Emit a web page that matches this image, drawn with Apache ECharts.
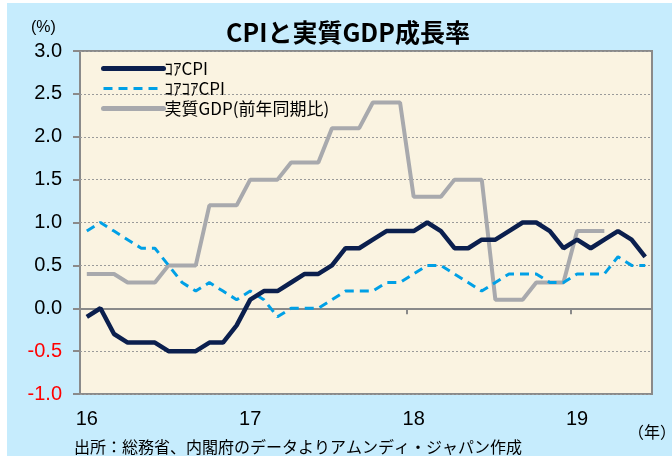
<!DOCTYPE html>
<html>
<head>
<meta charset="utf-8">
<script src="https://cdn.jsdelivr.net/npm/echarts@6/dist/echarts.min.js"></script>
<style>
  html, body { margin: 0; padding: 0; background: #fff; }
  #main { width: 672px; height: 456px; }
</style>
</head>
<body>
<div id="main"></div>
<script>
// 月次 2016/01 - 2019/06
const months = [
  '16/01', '16/02', '16/03', '16/04', '16/05', '16/06', '16/07', '16/08', '16/09', '16/10', '16/11', '16/12',
  '17/01', '17/02', '17/03', '17/04', '17/05', '17/06', '17/07', '17/08', '17/09', '17/10', '17/11', '17/12',
  '18/01', '18/02', '18/03', '18/04', '18/05', '18/06', '18/07', '18/08', '18/09', '18/10', '18/11', '18/12',
  '19/01', '19/02', '19/03', '19/04', '19/05', '19/06'
]
const coreCpi = [
  -0.1, 0.0, -0.3, -0.4, -0.4, -0.4, -0.5, -0.5, -0.5, -0.4, -0.4, -0.2,
  0.1, 0.2, 0.2, 0.3, 0.4, 0.4, 0.5, 0.7, 0.7, 0.8, 0.9, 0.9,
  0.9, 1.0, 0.9, 0.7, 0.7, 0.8, 0.8, 0.9, 1.0, 1.0, 0.9, 0.7,
  0.8, 0.7, 0.8, 0.9, 0.8, 0.6
]
const coreCoreCpi = [
  0.9, 1.0, 0.9, 0.8, 0.7, 0.7, 0.5, 0.3, 0.2, 0.3, 0.2, 0.1,
  0.2, 0.1, -0.1, 0.0, 0.0, 0.0, 0.1, 0.2, 0.2, 0.2, 0.3, 0.3,
  0.4, 0.5, 0.5, 0.4, 0.3, 0.2, 0.3, 0.4, 0.4, 0.4, 0.3, 0.3,
  0.4, 0.4, 0.4, 0.6, 0.5, 0.5
]
// 四半期の値を3か月ずつ
const realGdp = [
  0.4, 0.4, 0.4, 0.3, 0.3, 0.3, 0.5, 0.5, 0.5, 1.2, 1.2, 1.2,
  1.5, 1.5, 1.5, 1.7, 1.7, 1.7, 2.1, 2.1, 2.1, 2.4, 2.4, 2.4,
  1.3, 1.3, 1.3, 1.5, 1.5, 1.5, 0.1, 0.1, 0.1, 0.3, 0.3, 0.3,
  0.9, 0.9, 0.9, null, null, null
]
const seriesNames = ['ｺｱCPI', 'ｺｱｺｱCPI', '実質GDP(前年同期比)']
const colors = ['#0B1F4E', '#00A0E6', '#A8A9AD']

const myChart = echarts.init(document.getElementById('main'))
const jp = '"Noto Sans CJK JP", sans-serif'
const num = '"Liberation Sans", Arial, sans-serif'

const option = {
  backgroundColor: '#C6ECFD',
  animation: false,
  title: {
    text: 'CPIと実質GDP成長率',
    left: 343,
    top: 15,
    textAlign: 'center',
    textStyle: { fontFamily: jp, fontSize: 25, fontWeight: 'bold', color: '#000' }
  },
  graphic: [
    { type: 'rect', shape: { x: 0, y: 0, width: 672, height: 3 }, style: { fill: '#fff' } },
    { type: 'rect', shape: { x: 0, y: 0, width: 7, height: 456 }, style: { fill: '#fff' } },
    { type: 'text', left: 31, top: 20, style: { text: '(%)', font: '16px ' + num, fill: '#000' } },
    { type: 'text', left: 628, top: 424, style: { text: '（年）', font: '16px ' + jp, fill: '#000' } },
    { type: 'text', left: 74, top: 439, style: { text: '出所：総務省、内閣府のデータよりアムンディ・ジャパン作成', font: '16px ' + jp, fill: '#000' } }
  ],
  legend: {
    orient: 'vertical',
    left: 96,
    top: 55,
    itemWidth: 60,
    itemHeight: 12,
    itemGap: 3,
    itemStyle: { opacity: 0 },
    data: [
      { name: seriesNames[0], lineStyle: { width: 5, cap: 'round' } },
      { name: seriesNames[1], lineStyle: { width: 3, type: [9, 6] } },
      { name: seriesNames[2], lineStyle: { width: 5, cap: 'round' } }
    ],
    textStyle: { fontFamily: jp, fontSize: 17, color: '#000', padding: [0, 0, 0, -4] }
  },
  grid: {
    left: 80,
    right: 20,
    top: 51,
    bottom: 62,
    show: true,
    backgroundColor: '#FAF3E1',
    borderColor: '#8A8A8A',
    borderWidth: 2
  },
  xAxis: [
    {
      type: 'category',
      data: months,
      boundaryGap: true,
      axisLine: { onZero: true, lineStyle: { color: '#8A8A8A', width: 2 } },
      axisTick: {
        show: true,
        length: 6,
        interval: (i) => i % 12 === 0,
        lineStyle: { color: '#8A8A8A', width: 2 }
      },
      axisLabel: { show: false }
    },
    {
      type: 'category',
      data: months,
      boundaryGap: true,
      position: 'bottom',
      axisLine: { show: false, onZero: false },
      axisTick: { show: false },
      axisLabel: {
        interval: (i) => i % 12 === 0,
        formatter: (v) => v.slice(0, 2),
        fontFamily: num,
        fontSize: 20,
        color: '#000',
        margin: 15
      }
    }
  ],
  yAxis: {
    type: 'value',
    min: -1,
    max: 3,
    interval: 0.5,
    axisLine: { show: false },
    axisTick: { show: true, length: 7, lineStyle: { color: '#8A8A8A', width: 2 } },
    axisLabel: {
      formatter: (v) => v.toFixed(1),
      color: (v) => (v < 0 ? '#FF0000' : '#000'),
      fontFamily: num,
      fontSize: 20,
      margin: 18
    },
    splitLine: { lineStyle: { color: '#9A9A9A', type: [2, 2], width: 1 } }
  },
  series: [
    {
      name: seriesNames[2],
      type: 'line',
      data: realGdp,
      symbol: 'none',
      lineStyle: { color: colors[2], width: 4 },
      itemStyle: { color: colors[2] }
    },
    {
      name: seriesNames[1],
      type: 'line',
      data: coreCoreCpi,
      symbol: 'none',
      lineStyle: { color: colors[1], width: 3, type: [9, 6] },
      itemStyle: { color: colors[1] }
    },
    {
      name: seriesNames[0],
      type: 'line',
      data: coreCpi,
      symbol: 'none',
      lineStyle: { color: colors[0], width: 4.5 },
      itemStyle: { color: colors[0] }
    }
  ]
}

myChart.setOption(option)
</script>
</body>
</html>
